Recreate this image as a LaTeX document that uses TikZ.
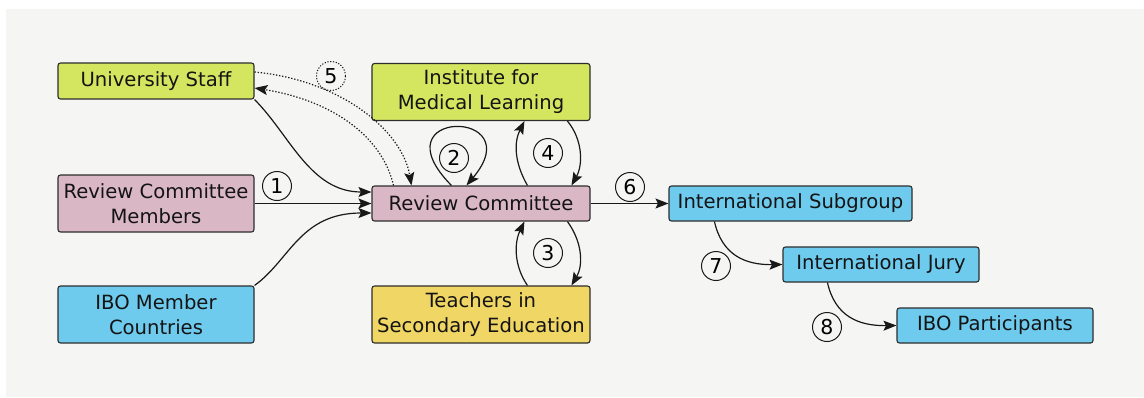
\documentclass[tikz,border=0pt]{standalone}
\usepackage{fontspec}
\setmainfont{DejaVu Sans}
\usetikzlibrary{arrows.meta}
\definecolor{bggray}{RGB}{245,245,243}
\definecolor{limefill}{RGB}{212,230,96}
\definecolor{mauvefill}{RGB}{218,183,197}
\definecolor{skyfill}{RGB}{110,203,238}
\definecolor{goldfill}{RGB}{240,214,100}
\definecolor{edgec}{RGB}{45,45,45}
\begin{document}
\begin{tikzpicture}[x=1pt,y=-1pt,
  box/.style={draw=edgec, line width=1.1pt, rounded corners=2.5pt, inner sep=0pt, align=center,
    font=\fontsize{19.6}{25}\selectfont, text=black!92},
  conn/.style={line width=1.2pt, draw=black!90, -{Stealth[length=13pt,width=10pt,inset=2.5pt]}},
  dotconn/.style={conn, dash pattern=on 1.3pt off 1.8pt},
  num/.style={circle, draw=black!90, line width=1pt, minimum size=29pt, inner sep=0pt,
    font=\fontsize{20.5}{20.5}\selectfont},
  dotnum/.style={num, dash pattern=on 1.2pt off 1.6pt}
]
\useasboundingbox (0,0) rectangle (1144,397);
\fill[white] (0,0) rectangle (1144,397);
\fill[bggray] (6,9) rectangle (1144,397);

% nodes
\node[box, fill=limefill, minimum width=196pt, minimum height=36pt] (us) at (156,81) {University Staff};
\node[box, fill=mauvefill, minimum width=196pt, minimum height=57pt] (rcm) at (156,203.5) {Review Committee\\Members};
\node[box, fill=skyfill, minimum width=196pt, minimum height=57pt] (ibo) at (156,314.5) {IBO Member\\Countries};
\node[box, fill=limefill, minimum width=218pt, minimum height=57pt] (inst) at (481,92) {Institute for\\Medical Learning};
\node[box, fill=mauvefill, minimum width=218pt, minimum height=35pt] (rc) at (481,203.5) {Review Committee};
\node[box, fill=goldfill, minimum width=218pt, minimum height=57pt] (teach) at (481,314.5) {Teachers in\\Secondary Education};
\node[box, fill=skyfill, minimum width=243pt, minimum height=35pt] (sub) at (790.5,203.5) {International Subgroup};
\node[box, fill=skyfill, minimum width=196pt, minimum height=35pt] (jury) at (881,264.5) {International Jury};
\node[box, fill=skyfill, minimum width=196pt, minimum height=35pt] (part) at (995,325.5) {IBO Participants};

% connectors into review committee
\draw[conn] (us.south east) .. controls (290,135) and (310,192) .. ([yshift=11.5pt]rc.west);
\draw[conn] (rcm.east) -- (rc.west);
\draw[conn] (ibo.north east) .. controls (290,260) and (300,213) .. ([yshift=-9.5pt]rc.west);

% dotted exchange with university staff
\draw[dotconn] ([yshift=9pt]us.east) .. controls (340,80) and (402,130) .. ([xshift=40pt]rc.north west);
\draw[dotconn] ([xshift=22pt]rc.north west) .. controls (382,135) and (330,100) .. ([yshift=-7pt]us.east);

% self loop
\draw[conn] ([xshift=80pt]rc.north west) .. controls (375,108) and (532,108) .. ([xshift=95pt]rc.north west);

% institute exchange
\draw[conn] ([xshift=156pt]rc.north west) .. controls (514,162) and (514,142) .. ([xshift=153pt]inst.south west);
\draw[conn] ([xshift=196pt]inst.south west) .. controls (583,140) and (583,165) .. ([xshift=200pt]rc.north west);

% teachers exchange
\draw[conn] ([xshift=156pt]teach.north west) .. controls (514,266) and (514,243) .. ([xshift=153pt]rc.south west);
\draw[conn] ([xshift=196pt]rc.south west) .. controls (583,243) and (583,266) .. ([xshift=200pt]teach.north west);

% international chain
\draw[conn] (rc.east) -- (sub.west);
\draw[conn] ([xshift=46pt]sub.south west) .. controls (722,255) and (745,265) .. (jury.west);
\draw[conn] ([xshift=45pt]jury.south west) .. controls (835,316) and (858,326) .. (part.west);

% step numbers
\node[num] (n1) at (277,186) {1};
\node[num] (n2) at (454,158) {2};
\node[num] (n3) at (548,253) {3};
\node[num] (n4) at (548,153) {4};
\node[dotnum] (n5) at (331,76) {5};
\node[num] (n6) at (630,187) {6};
\node[num] (n7) at (716,266) {7};
\node[num] (n8) at (827,327) {8};
\end{tikzpicture}
\end{document}
